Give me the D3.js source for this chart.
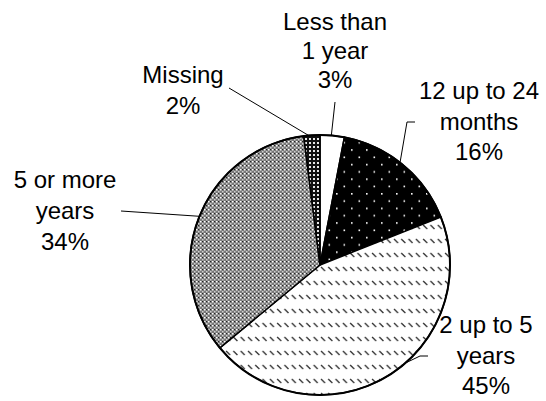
<!DOCTYPE html>
<html>
<head>
<meta charset="utf-8">
<script src="https://cdn.jsdelivr.net/npm/d3@7"></script>
<style>
  html, body { margin: 0; padding: 0; background: #fff; }
  svg { display: block; }
  text { font-family: "Liberation Sans", Arial, sans-serif; font-size: 24px; fill: #000; }
</style>
</head>
<body>
<svg id="chart" width="546" height="401"></svg>
<script>
// Time categories, clockwise from 12 o'clock
const categories = ["Less than 1 year", "12 up to 24 months", "2 up to 5 years", "5 or more years", "Missing"];
const values = [3, 16, 45, 34, 2];
// Label text, split into lines (the percentage is appended as the last line)
const labelLines = [["Less than", "1 year"], ["12 up to 24", "months"], ["2 up to 5", "years"], ["5 or more", "years"], ["Missing"]];
const fillPatterns = ["url(#p-white)", "url(#p-dots)", "url(#p-dash)", "url(#p-check)", "url(#p-grid)"];

// Label placement: centre x, first baseline y, leader elbow points, leader anchor angle (deg, clockwise from top)
const labelLayout = [
  { x: 335, y: 30, lh: 29, leader: [[335, 102]], angle: 5 },
  { x: 479, y: 99, lh: 30.5, leader: [[415, 122], [407, 122]], angle: 38 },
  { x: 486, y: 333, lh: 30.5, leader: [[428, 356], [420, 356]], angle: 139 },
  { x: 65, y: 188, lh: 31, leader: [[121, 211]], angle: 292 },
  { x: 183, y: 83, lh: 31, leader: [[229, 88]], angle: 355 }
];

const svg = d3.select("#chart");
const cx = 320, cy = 265, r = 130;

// Hatch / dot fills
const defs = svg.append("defs");

const pw = defs.append("pattern").attr("id", "p-white")
  .attr("patternUnits", "userSpaceOnUse").attr("width", 4).attr("height", 4);
pw.append("rect").attr("width", 4).attr("height", 4).attr("fill", "#fff");

const pd = defs.append("pattern").attr("id", "p-dots")
  .attr("patternUnits", "userSpaceOnUse").attr("width", 15).attr("height", 14.6);
pd.append("rect").attr("width", 15).attr("height", 14.6).attr("fill", "#000");
pd.append("rect").attr("x", 1).attr("y", 1).attr("width", 1.6).attr("height", 1.6).attr("fill", "#fff");
pd.append("rect").attr("x", 8.5).attr("y", 8.3).attr("width", 1.6).attr("height", 1.6).attr("fill", "#fff");

const ph = defs.append("pattern").attr("id", "p-dash")
  .attr("patternUnits", "userSpaceOnUse").attr("width", 7.3).attr("height", 14);
ph.append("rect").attr("width", 7.3).attr("height", 14).attr("fill", "#fff");
ph.append("line").attr("x1", 1).attr("y1", 2).attr("x2", 5).attr("y2", 6)
  .attr("stroke", "#333").attr("stroke-width", 1.3);

const pc = defs.append("pattern").attr("id", "p-check")
  .attr("patternUnits", "userSpaceOnUse").attr("width", 4).attr("height", 4);
pc.append("rect").attr("width", 4).attr("height", 4).attr("fill", "#7a7a7a");
pc.append("rect").attr("x", 0).attr("y", 0).attr("width", 1.5).attr("height", 1.5).attr("fill", "#fff");
pc.append("rect").attr("x", 2).attr("y", 2).attr("width", 1.5).attr("height", 1.5).attr("fill", "#d0d0d0");
pc.append("rect").attr("x", 2).attr("y", 0).attr("width", 1).attr("height", 1).attr("fill", "#222");

const pg = defs.append("pattern").attr("id", "p-grid")
  .attr("patternUnits", "userSpaceOnUse").attr("width", 4).attr("height", 4);
pg.append("rect").attr("width", 4).attr("height", 4).attr("fill", "#111");
pg.append("rect").attr("x", 1).attr("y", 1).attr("width", 2).attr("height", 2).attr("fill", "#e8e8e8");

// Pie
const pie = d3.pie().sort(null).value(d => d)(values);
const arc = d3.arc().innerRadius(0).outerRadius(r);

const g = svg.append("g").attr("transform", `translate(${cx},${cy})`);
g.selectAll("path.slice").data(pie).join("path")
  .attr("class", "slice")
  .attr("d", arc)
  .attr("fill", (d, i) => fillPatterns[i])
  .attr("stroke", "#000")
  .attr("stroke-width", 1.5)
  .attr("stroke-linejoin", "round");

g.append("circle").attr("r", r).attr("fill", "none")
  .attr("stroke", "#000").attr("stroke-width", 2);

// Leader lines
const line = d3.line();
labelLayout.forEach((L, i) => {
  const a = L.angle * Math.PI / 180;
  const anchor = [cx + r * Math.sin(a), cy - r * Math.cos(a)];
  svg.append("path")
    .attr("d", line([...L.leader, anchor]))
    .attr("fill", "none").attr("stroke", "#000").attr("stroke-width", 1);
});

// Labels
labelLayout.forEach((L, i) => {
  const lines = [...labelLines[i], `${values[i]}%`];
  const t = svg.append("text").attr("text-anchor", "middle");
  lines.forEach((s, k) => {
    t.append("tspan").attr("x", L.x).attr("y", L.y + k * L.lh).text(s);
  });
});
</script>
</body>
</html>
